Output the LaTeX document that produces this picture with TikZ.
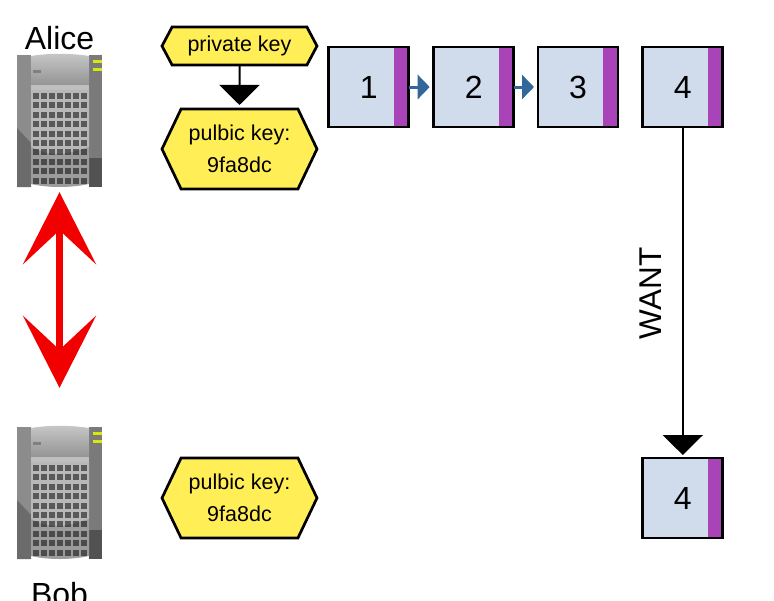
\documentclass[tikz,border=0pt]{standalone}
\usepackage{xcolor}
\usepackage{fontspec}
\setmainfont{Liberation Sans}
\usetikzlibrary{shapes.symbols,arrows.meta}
\definecolor{blockblue}{HTML}{D0DCEC}
\definecolor{blockpurple}{HTML}{A844B8}
\definecolor{keyyellow}{HTML}{FFEE55}
\definecolor{linkblue}{HTML}{336699}
\tikzset{
  block/.style={draw=black,line width=2.7pt,fill=blockblue,minimum size=80pt,inner sep=0pt,outer sep=0pt,
    font=\fontsize{32}{36}\selectfont,
    path picture={\fill[blockpurple] ([xshift=-15pt]path picture bounding box.north east) rectangle (path picture bounding box.south east);}},
  keybox/.style={draw=black,line width=2.7pt,fill=keyyellow,signal,signal to=west and east,inner sep=0pt,outer sep=0pt,
    align=center,font=\fontsize{21.5}{32}\selectfont},
  name label/.style={font=\fontsize{32}{36}\selectfont,inner sep=0pt},
  bigarrow/.style={-{Triangle[width=40pt,length=20pt]},line width=2pt,black},
  linkarrow/.style={-{Triangle[width=24pt,length=12pt]},line width=3pt,linkblue},
  pics/server/.style={code={
    \fill[black!45] (-42.5,-66) rectangle (-28.5,66);
    \fill[black!52] (29.5,-66) rectangle (42.5,66);
    \fill[black!58] (-42.5,7) -- (-28.5,22) -- (-28.5,66) -- (-42.5,66) -- cycle;
    \fill[black!68] (29.5,37) -- (42.5,37) -- (42.5,66) -- (29.5,66) -- cycle;
    \shade[top color=black!22,bottom color=black!42] (-28.5,-65) .. controls (-10,-68) and (10,-68) .. (29.5,-65) -- (29.5,-36) -- (-28.5,-36) -- cycle;
    \fill[black!25] (-28.5,-36) rectangle (29.5,-31);
    \fill[black!28] (-28.5,-31) -- (29.5,-31) -- (29.5,63) .. controls (10,67) and (-10,67) .. (-28.5,63) -- cycle;
    \fill[black!50] (-26.5,-51) rectangle (-18.5,-48.5);
    \foreach \col in {0,...,6}
      \foreach \row in {0,...,9}
        \fill[black!65] ({-26.5+8*\col},{-28+9.4*\row}) rectangle +(5.5,6);
    \fill[black,opacity=.15] (-28.5,26) .. controls (-5,38) and (10,32) .. (29.5,26) -- (29.5,63) .. controls (10,67) and (-10,67) .. (-28.5,63) -- cycle;
    \fill[yellow!85!green] (33,-61) rectangle (42.5,-58);
    \fill[yellow!85!green] (33,-53) rectangle (42.5,-50);
  }}
}
\begin{document}
\begin{tikzpicture}[x=1pt,y=-1pt]
\useasboundingbox (0,0) rectangle (774,600);
\clip (0,0) rectangle (774,600);
\node[minimum width=85pt,minimum height=132pt,inner sep=0pt] (alice) at (59.5,121) {};
\node[minimum width=85pt,minimum height=132pt,inner sep=0pt] (bob) at (59.5,493) {};
\pic at (alice) {server};
\pic at (bob) {server};
\node[name label] (alicename) at (59.5,38) {Alice};
\node[name label] (bobname) at (59.5,594) {Bob};
\draw[{Stealth[length=72pt,width=73pt,inset=34pt]}-{Stealth[length=72pt,width=73pt,inset=34pt]},line width=7pt,red!95!black,shorten <=5pt,shorten >=39pt] (alice.south) -- (bob.north);
\node[keybox,minimum width=155pt,minimum height=38pt,signal pointer angle=124] (private) at (239.5,46) {\raisebox{-1pt}{private key}};
\node[keybox,minimum width=155pt,minimum height=80pt,signal pointer angle=129] (alicepub) at (239.5,149) {pulbic key:\\9fa8dc};
\node[keybox,minimum width=155pt,minimum height=80pt,signal pointer angle=129] (bobpub) at (239.5,498) {pulbic key:\\9fa8dc};
\draw[bigarrow,shorten >=4pt] (private) -- (alicepub);
\node[block] (one) at (368.7,87) {1};
\node[block] (two) at (473.7,87) {2};
\node[block] (three) at (578,87) {3};
\node[block] (four) at (682.8,87) {4};
\node[block] (bobfour) at (682.8,498) {4};
\draw[linkarrow,shorten >=4pt] (one) -- (two);
\draw[linkarrow,shorten >=4pt] (two) -- (three);
\draw[bigarrow,shorten >=3pt] (four) -- node[pos=.5,xshift=-32pt,yshift=-1pt,rotate=90,font=\fontsize{31.5}{36}\selectfont,inner sep=0pt] (want) {WANT} (bobfour);
\end{tikzpicture}
\end{document}
